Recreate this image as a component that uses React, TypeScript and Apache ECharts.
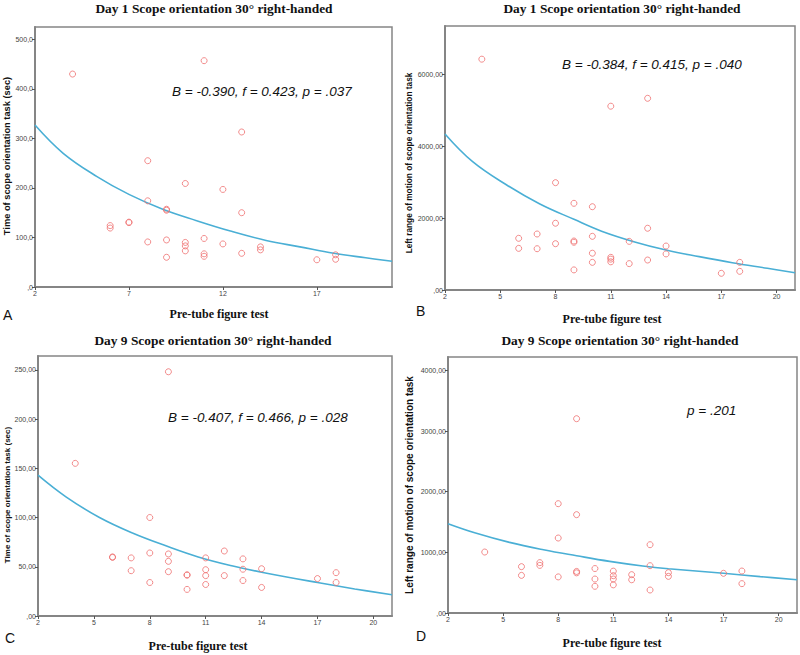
import React, { useEffect, useRef } from "react";
import * as echarts from "echarts";

// ---------- data ----------
const panelTitles = [
  "Day 1 Scope orientation 30° right-handed",
  "Day 1 Scope orientation 30° right-handed",
  "Day 9 Scope orientation 30° right-handed",
  "Day 9 Scope orientation 30° right-handed",
];
const yTitles = [
  "Time of scope orientation task (sec)",
  "Left range of motion of scope orientation task",
  "Time of scope orientation task (sec)",
  "Left range of motion of scope orientation task",
];
const xTitle = "Pre-tube figure test";
const panelLetters = ["A", "B", "C", "D"];
const statTexts = [
  "B = -0.390, f = 0.423, p = .037",
  "B = -0.384, f = 0.415, p = .040",
  "B = -0.407, f = 0.466, p = .028",
  "p = .201",
];

const xTicksA = [2, 7, 12, 17];
const xTicksBCD = [2, 5, 8, 11, 14, 17, 20];
const yTicksA = [0, 100, 200, 300, 400, 500];
const yTicksB = [0, 2000, 4000, 6000];
const yTicksC = [0, 50, 100, 150, 200, 250];
const yTicksD = [0, 1000, 2000, 3000, 4000];

// Panel A: Day 1 time
const xA = [4, 11, 13, 8, 10, 12, 8, 9, 9, 13, 6, 6, 7, 7, 8, 9, 10, 10, 10, 11, 11, 11, 12, 13, 14, 14, 9, 17, 18, 18];
const yA = [430, 457, 313, 255, 209, 197, 174, 157, 155, 150, 124, 119, 131, 130, 91, 95, 90, 83, 73, 98, 67, 62, 87, 68, 81, 75, 60, 55, 65, 56];
const fitAx = [2, 3.5, 5.3, 7, 8.8, 10.6, 12.4, 14.3, 16.1, 17.9, 19.6, 21];
const fitAy = [327, 270, 223, 187, 157, 134, 113, 94, 81, 68, 59, 52];

// Panel B: Day 1 left range of motion
const xB = [4, 11, 13, 8, 9, 10, 8, 13, 6, 7, 10, 9, 9, 12, 8, 14, 6, 7, 10, 14, 11, 11, 11, 10, 12, 13, 9, 18, 18, 17];
const yB = [6430, 5120, 5340, 2990, 2415, 2320, 1860, 1720, 1440, 1560, 1495, 1365, 1330, 1355, 1290, 1225, 1160, 1150, 1025, 1005, 910, 860, 785, 770, 735, 835, 560, 770, 520, 465];
const fitBx = [2, 3.5, 5.35, 7.15, 9, 10.5, 12.3, 14, 15.8, 17.6, 19.5, 21];
const fitBy = [4346, 3575, 2925, 2396, 1969, 1640, 1340, 1114, 929, 760, 604, 480];

// Panel C: Day 9 time
const xC = [9, 4, 8, 6, 6, 7, 7, 8, 8, 9, 9, 9, 10, 10, 10, 11, 11, 11, 11, 12, 12, 13, 13, 13, 14, 14, 17, 18, 18];
const yC = [248, 155, 100, 60, 59.5, 59, 46, 64, 34, 63, 55.5, 45, 41.8, 41.5, 27, 59, 47, 41, 32, 66, 41, 58, 47.5, 36, 48, 29, 38, 44, 34];
const fitCx = [2, 3.5, 5.3, 7.1, 8.9, 10.6, 12.4, 14, 17, 19, 21];
const fitCy = [143, 121, 100, 84, 71, 60, 51, 44.5, 34, 27.5, 21.6];

// Panel D: Day 9 left range of motion
const xD = [9, 8, 9, 8, 13, 4, 6, 7, 7, 13, 10, 11, 9, 9, 14, 12, 17, 18, 6, 8, 11, 11, 14, 10, 12, 11, 10, 18, 13];
const yD = [3203, 1802, 1621, 1236, 1126, 1005, 764, 830, 785, 780, 733, 690, 685, 662, 665, 632, 654, 692, 620, 595, 615, 560, 604, 560, 548, 464, 440, 484, 379];
const fitDx = [2, 3.5, 5.35, 7.2, 9, 10.8, 12.6, 14, 17, 19, 21];
const fitDy = [1472, 1318, 1164, 1043, 944, 851, 775, 730, 655, 600, 549];

const pairs = (xs: number[], ys: number[]) => xs.map((x, i) => [x, ys[i]]);

export default function App() {
  const ref = useRef<HTMLDivElement>(null);

  useEffect(() => {
    if (!ref.current) return;
    const chart = echarts.init(ref.current, undefined, { renderer: "svg" });

    const grids = [
      { left: 35, top: 27, width: 357, height: 260 },
      { left: 445, top: 26, width: 350, height: 264 },
      { left: 38, top: 356, width: 354, height: 260 },
      { left: 448, top: 357, width: 349, height: 256 },
    ];
    const yMax = [525, 7354, 264, 4220];
    const yTicks = [yTicksA, yTicksB, yTicksC, yTicksD];
    const xTicks = [xTicksA, xTicksBCD, xTicksBCD, xTicksBCD];
    const yDec = [1, 2, 2, 2];
    const scat = [pairs(xA, yA), pairs(xB, yB), pairs(xC, yC), pairs(xD, yD)];
    const fits = [pairs(fitAx, fitAy), pairs(fitBx, fitBy), pairs(fitCx, fitCy), pairs(fitDx, fitDy)];

    const axisColor = "#858585";
    const sans = "'Liberation Sans', Arial, sans-serif";
    const serif = "'Liberation Serif', 'Times New Roman', serif";

    const fmtY = (dec: number) => (v: number) => {
      const s = v.toFixed(dec).replace(".", ",");
      return v === 0 ? s.replace(/^0/, "") : s;
    };

    const xAxis = grids.map((_, i) => ({
      type: "value",
      gridIndex: i,
      min: 2,
      max: 21,
      splitLine: { show: false },
      axisLine: { show: true, lineStyle: { color: axisColor, width: 2 } },
      axisTick: { show: true, length: 3, customValues: xTicks[i], lineStyle: { color: "#555", width: 1 } },
      axisLabel: {
        customValues: xTicks[i],
        fontSize: 7,
        color: "#444",
        fontFamily: sans,
        margin: 3,
      },
    }));
    const yAxis = grids.map((_, i) => ({
      type: "value",
      gridIndex: i,
      min: 0,
      max: yMax[i],
      splitLine: { show: false },
      axisLine: { show: true, lineStyle: { color: axisColor, width: 2 } },
      axisTick: { show: true, length: 3, customValues: yTicks[i], lineStyle: { color: "#555", width: 1 } },
      axisLabel: {
        customValues: yTicks[i],
        fontSize: 7,
        color: "#444",
        fontFamily: sans,
        margin: 2,
        formatter: fmtY(yDec[i]),
      },
    }));

    const series: any[] = [];
    grids.forEach((_, i) => {
      series.push({
        type: "scatter",
        xAxisIndex: i,
        yAxisIndex: i,
        data: scat[i],
        symbol: "circle",
        symbolSize: 6,
        itemStyle: { color: "rgba(255,255,255,0)", borderColor: "#ef6f6f", borderWidth: 1 },
        z: 3,
      });
      series.push({
        type: "line",
        xAxisIndex: i,
        yAxisIndex: i,
        data: fits[i],
        smooth: 0.4,
        showSymbol: false,
        symbol: "none",
        lineStyle: { color: "#4aafd5", width: 1.6 },
        z: 2,
      });
    });

    const titlePos = [
      [214, 8],
      [622, 8],
      [213, 340],
      [620, 340],
    ];
    const xNamePos = [
      [219, 314],
      [612, 319],
      [198, 646],
      [612, 643],
    ];
    const yNamePos = [
      [7, 156],
      [409, 163],
      [7, 495],
      [409, 485],
    ];
    const yNameSize = [9.3, 8.3, 8, 10];
    const letterPos = [
      [3, 315],
      [416, 311],
      [5, 638],
      [416, 636],
    ];
    const statPos = [
      [172, 91],
      [562, 64],
      [168, 417],
      [687, 410],
    ];

    const graphic: any[] = [];
    grids.forEach((_, i) => {
      graphic.push({
        type: "text",
        x: titlePos[i][0],
        y: titlePos[i][1],
        style: {
          text: panelTitles[i],
          font: `bold 13.4px ${serif}`,
          fill: "#111",
          align: "center",
          verticalAlign: "middle",
        },
      });
      graphic.push({
        type: "text",
        x: xNamePos[i][0],
        y: xNamePos[i][1],
        style: {
          text: xTitle,
          font: `bold 12px ${serif}`,
          fill: "#111",
          align: "center",
          verticalAlign: "middle",
        },
      });
      graphic.push({
        type: "text",
        x: yNamePos[i][0],
        y: yNamePos[i][1],
        rotation: Math.PI / 2,
        style: {
          text: yTitles[i],
          font: `bold ${yNameSize[i]}px ${sans}`,
          fill: "#111",
          align: "center",
          verticalAlign: "middle",
        },
      });
      graphic.push({
        type: "text",
        x: letterPos[i][0],
        y: letterPos[i][1],
        style: {
          text: panelLetters[i],
          font: `14px ${sans}`,
          fill: "#111",
          align: "left",
          verticalAlign: "middle",
        },
      });
      graphic.push({
        type: "text",
        x: statPos[i][0],
        y: statPos[i][1],
        style: {
          text: statTexts[i],
          font: `italic 13.5px ${sans}`,
          fill: "#111",
          align: "left",
          verticalAlign: "middle",
        },
      });
    });

    chart.setOption({
      animation: false,
      backgroundColor: "#ffffff",
      grid: grids.map((g) => ({
        ...g,
        show: true,
        backgroundColor: "#ffffff",
        borderColor: axisColor,
        borderWidth: 1.5,
      })),
      xAxis,
      yAxis,
      series,
      graphic,
    });

    return () => chart.dispose();
  }, []);

  return (
    <div
      ref={ref}
      style={{ position: "absolute", left: 0, top: 0, width: 800, height: 655, background: "#fff" }}
    />
  );
}
